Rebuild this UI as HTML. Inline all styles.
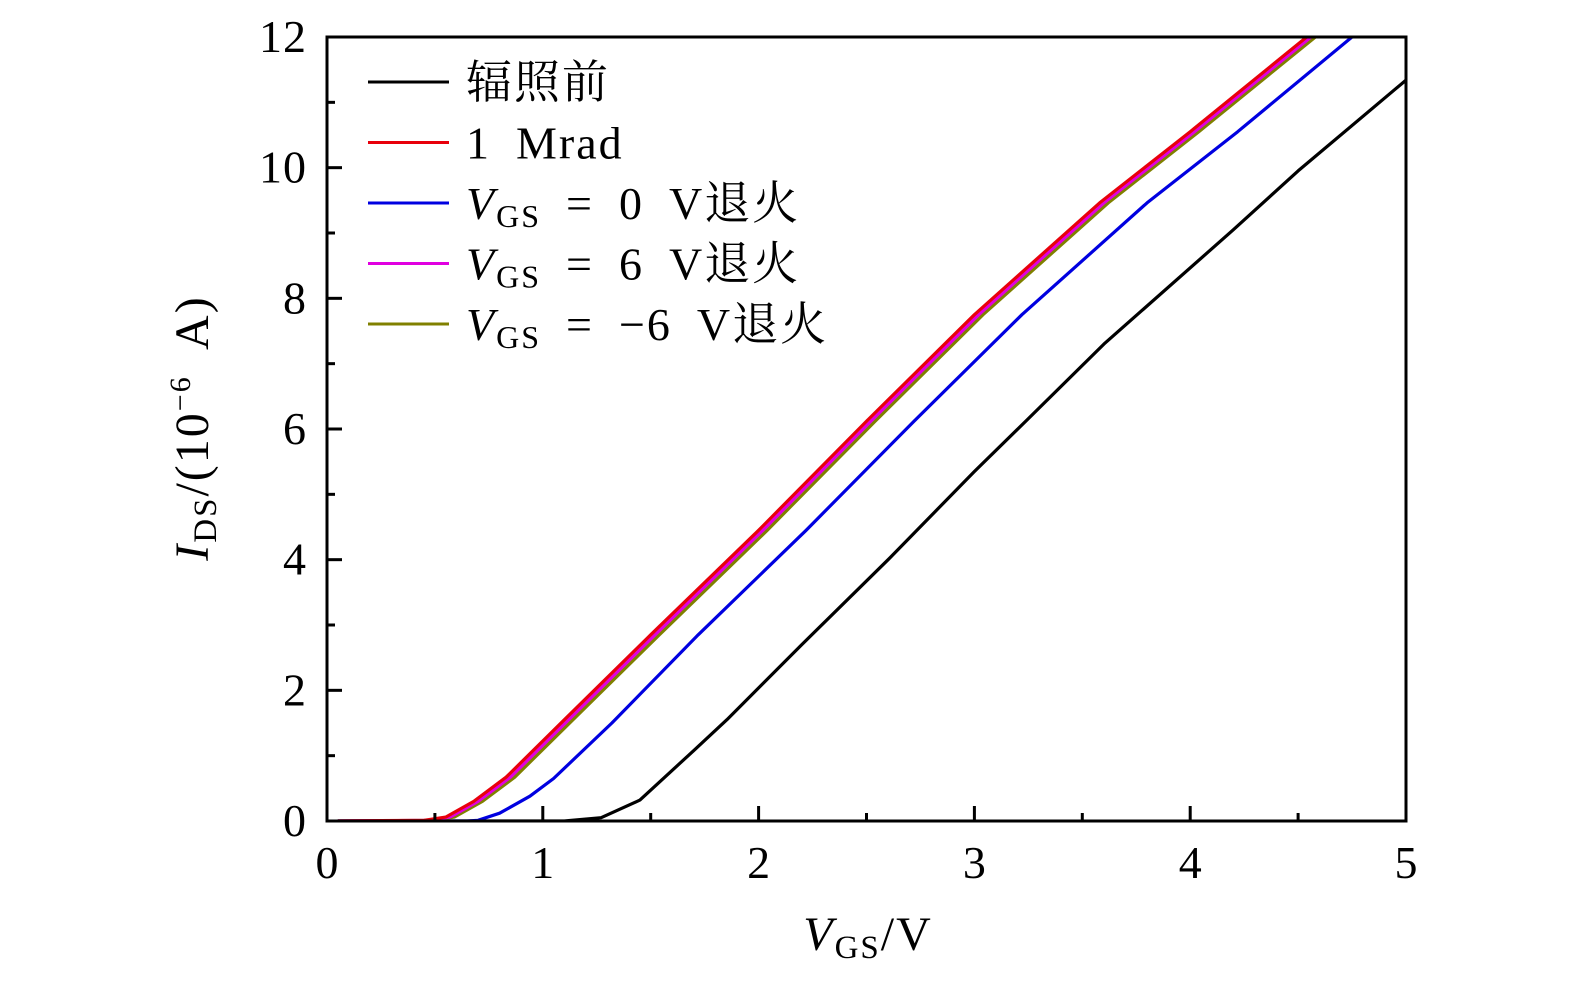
<!DOCTYPE html>
<html><head><meta charset="utf-8"><style>
html,body{margin:0;padding:0;background:#fff;}
svg{display:block;}
text{font-family:"Liberation Serif","Noto Serif CJK SC",serif;fill:#000;}
</style></head><body>
<svg id="chart" width="1575" height="984" viewBox="0 0 1575 984" xmlns="http://www.w3.org/2000/svg">
<g id="series"></g>
<g id="axes"></g>
<g id="legend"></g>
<text x="868" y="950" font-size="48" letter-spacing="2" text-anchor="middle"><tspan font-style="italic">V</tspan><tspan font-size="33" dy="8">GS</tspan><tspan dy="-8">/V</tspan></text>
<text transform="translate(208,428) rotate(-90)" font-size="48" letter-spacing="2" text-anchor="middle"><tspan font-style="italic">I</tspan><tspan font-size="33" dy="8">DS</tspan><tspan dy="-8">/(10</tspan><tspan font-size="30" dy="-18">−6</tspan><tspan dy="18" xml:space="preserve">  A)</tspan></text>
</svg>
<script>
const xTicks=[0,1,2,3,4,5];
const yTicks=[0,2,4,6,8,10,12];
const seriesNames=["辐照前","1 Mrad","V_GS = 0 V退火","V_GS = 6 V退火","V_GS = −6 V退火"];
const seriesColors=["#000000","#e8000b","#0000e0","#e000e0","#808000"];
const vBlack=[0.05,1.1,1.27,1.45,1.7,1.853,2.2,2.6,3.0,3.244,3.6,4.2,4.5,5.0];
const iBlack=[0,0,0.05,0.32,1.08,1.55,2.7,4.0,5.35,6.14,7.3,9.05,9.95,11.34];
const vRed=[0.05,0.45,0.55,0.68,0.83,1.1,1.5,2.0,2.5,3.0,3.58,4.0,4.54];
const iRed=[0,0.01,0.06,0.3,0.67,1.55,2.85,4.45,6.12,7.75,9.46,10.55,12];
const vBlue=[0.05,0.65,0.7,0.8,0.94,1.05,1.32,1.72,2.22,2.72,3.22,3.8,4.22,4.75];
const iBlue=[0,0,0.01,0.12,0.38,0.65,1.5,2.85,4.45,6.12,7.75,9.46,10.55,12];
const vMag=[0.05,0.47,0.57,0.7,0.85,1.12,1.52,2.02,2.52,3.02,3.6,4.02,4.56];
const iMag=[0,0.01,0.06,0.3,0.67,1.55,2.85,4.45,6.12,7.75,9.46,10.55,12];
const vOlive=[0.05,0.49,0.59,0.72,0.87,1.14,1.54,2.04,2.54,3.04,3.62,4.04,4.58];
const iOlive=[0,0.01,0.06,0.3,0.67,1.55,2.85,4.45,6.12,7.75,9.46,10.55,12];

const X0=327,X1=1406,Y0=821,Y1=37;
function sx(v){return X0+(v-0)/(5-0)*(X1-X0);}
function sy(v){return Y0-(v-0)/(12-0)*(Y0-Y1);}
const NS="http://www.w3.org/2000/svg";
function mk(tag,attrs,parent){const e=document.createElementNS(NS,tag);for(const k in attrs)e.setAttribute(k,attrs[k]);parent.appendChild(e);return e;}

const sg=document.getElementById('series');
const clip=mk('clipPath',{id:'pc'},sg);mk('rect',{x:X0,y:Y1,width:X1-X0,height:Y0-Y1},clip);
const allV=[vBlack,vRed,vBlue,vMag,vOlive],allI=[iBlack,iRed,iBlue,iMag,iOlive];
const keys=["black","1mrad","anneal-0v","anneal-6v","anneal-neg6v"];
const order=[0,2,4,3,1];
order.forEach(s=>{
  const d=allV[s].map((v,k)=>(k?'L':'M')+sx(v).toFixed(1)+','+sy(allI[s][k]).toFixed(1)).join('');
  const p=mk('path',{d:d,fill:'none',stroke:seriesColors[s],'stroke-width':3.2,'stroke-linejoin':'round','clip-path':'url(#pc)'},sg);
  
  
});

const ag=document.getElementById('axes');
const fr=mk('path',{d:`M${X0},${Y1}H${X1}V${Y0}H${X0}Z`,fill:'none',stroke:'#000','stroke-width':3},ag);


xTicks.forEach(t=>{
  const x=sx(t);
  const tk=mk('line',{x1:x,x2:x,y1:Y0,y2:Y0-15,stroke:'#000','stroke-width':3},ag);
  
  
  const lb=mk('text',{x:x,y:878,'font-size':46,'text-anchor':'middle'},ag);lb.textContent=t;
  
  
  if(t<5){const m=sx(t+0.5);const mt=mk('line',{x1:m,x2:m,y1:Y0,y2:Y0-8,stroke:'#000','stroke-width':3},ag);
  
  }
});
yTicks.forEach(t=>{
  const y=sy(t);
  const tk=mk('line',{x1:X0,x2:X0+15,y1:y,y2:y,stroke:'#000','stroke-width':3},ag);
  
  
  const lb=mk('text',{x:307,y:y+15,'font-size':46,'text-anchor':'end','letter-spacing':1},ag);lb.textContent=t;
  
  
  if(t<12){const m=sy(t+1);const mt=mk('line',{x1:X0,x2:X0+8,y1:m,y2:m,stroke:'#000','stroke-width':3},ag);
  
  }
});

const lg=document.getElementById('legend');
seriesNames.forEach((n,s)=>{
  const y=82+s*60.5;
  const g=mk('g',{},lg);
  
  
  mk('line',{x1:368,x2:449,y1:y,y2:y,stroke:seriesColors[s],'stroke-width':3},g);
  const t=mk('text',{x:466,y:y+16,'font-size':46,'letter-spacing':2},g);
  if(n.startsWith('V_GS')){
    const rest=n.slice(4).replace(/ /g,'\u2002');
    t.innerHTML='<tspan font-style="italic">V</tspan><tspan font-size="32" dy="8">GS</tspan><tspan dy="-8" xml:space="preserve">'+rest+'</tspan>';
  } else t.textContent=n.replace(/ /g,'\u2002');
});
</script>
</body></html>
